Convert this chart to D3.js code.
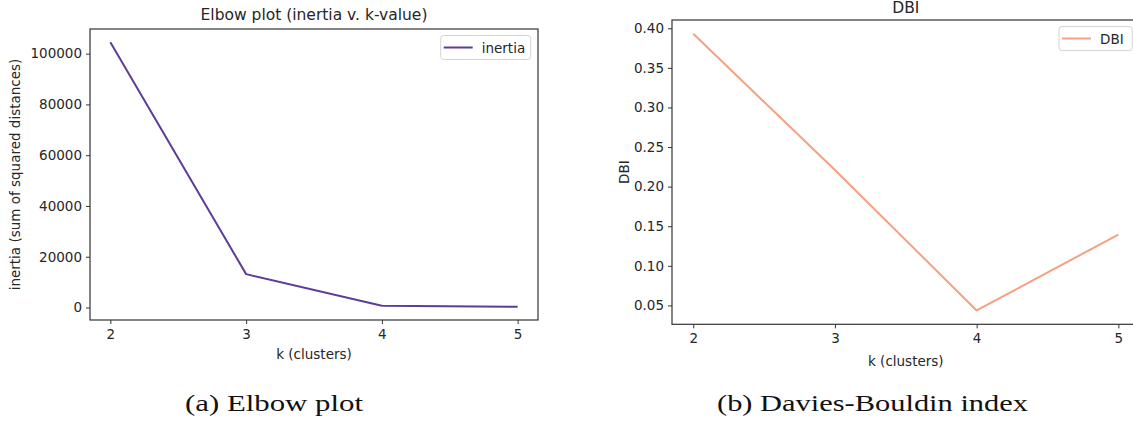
<!DOCTYPE html>
<html><head><meta charset="utf-8">
<script src="https://cdn.jsdelivr.net/npm/d3@7"></script>
<style>
html,body{margin:0;padding:0;background:#fff;}
svg{display:block;}
text{font-family:"DejaVu Sans",sans-serif;fill:#262626;}
.cap{font-family:"Liberation Serif","DejaVu Serif",serif;fill:#111;}
</style></head>
<body>
<svg id="c" width="1133" height="421"></svg>
<script>
const kValues = [2, 3, 4, 5];
const inertia = [104500, 13150, 680, 290];
const dbi = [0.393, 0.221, 0.0436, 0.1395];
const inertiaTicks = [0, 20000, 40000, 60000, 80000, 100000];
const dbiTicks = [0.05, 0.10, 0.15, 0.20, 0.25, 0.30, 0.35, 0.40];

const svg = d3.select("#c");

function panel(opt){
  const {x0,x1,y0,y1} = opt.box;
  const g = svg.append("g");
  const ext = d3.extent(opt.y);
  const m = (ext[1]-ext[0])*0.05;
  const xm = (d3.max(kValues)-d3.min(kValues))*0.05;
  const x = d3.scaleLinear().domain([d3.min(kValues)-xm, d3.max(kValues)+xm]).range([x0,x1]);
  const y = d3.scaleLinear().domain([ext[0]-m, ext[1]+m]).range([y1,y0]);

  const xa = g.append("g").attr("transform",`translate(0,${y1})`)
    .call(d3.axisBottom(x).tickValues(kValues).tickFormat(d3.format("d")).tickSize(4).tickPadding(5));
  const ya = g.append("g").attr("transform",`translate(${x0},0)`)
    .call(d3.axisLeft(y).tickValues(opt.ticks).tickFormat(opt.fmt).tickSize(4).tickPadding(4));
  [xa,ya].forEach(a=>{
    a.select(".domain").remove();
    a.selectAll("line").attr("stroke","#333").attr("stroke-width",1);
    a.selectAll("text").attr("font-size","13.5px").attr("fill","#262626").attr("font-family","DejaVu Sans");
  });

  g.append("path").datum(kValues.map((k,i)=>[k,opt.y[i]]))
    .attr("fill","none").attr("stroke",opt.color).attr("stroke-width",2)
    .attr("stroke-linejoin","round")
    .attr("d", d3.line().x(d=>x(d[0])).y(d=>y(d[1])));

  g.append("rect").attr("x",x0).attr("y",y0).attr("width",x1-x0).attr("height",y1-y0)
    .attr("fill","none").attr("stroke","#333").attr("stroke-width",1.2);

  g.append("text").attr("x",(x0+x1)/2).attr("y",opt.titleY).attr("text-anchor","middle")
    .attr("font-size","15.5px").text(opt.title);
  g.append("text").attr("x",(x0+x1)/2).attr("y",opt.xlabY).attr("text-anchor","middle")
    .attr("font-size","13.5px").text("k (clusters)");
  g.append("text").attr("transform",`translate(${opt.ylabX},${(y0+y1)/2}) rotate(-90)`)
    .attr("text-anchor","middle").attr("font-size","13.5px").text(opt.ylab);

  // legend
  const lw = opt.legW, lh = 24;
  const lx = x1 - 7.3 - lw, ly = y0 + 6.5;
  g.append("rect").attr("x",lx).attr("y",ly).attr("width",lw).attr("height",lh).attr("rx",3)
    .attr("fill","#fff").attr("fill-opacity",0.8).attr("stroke","#d4d4d4").attr("stroke-width",1);
  g.append("line").attr("x1",lx+3).attr("x2",lx+32).attr("y1",ly+lh/2).attr("y2",ly+lh/2)
    .attr("stroke",opt.color).attr("stroke-width",2);
  g.append("text").attr("x",lx+41).attr("y",ly+lh/2+5).attr("font-size","13.5px").text(opt.legend);

  svg.append("text").attr("class","cap").attr("x",opt.capX).attr("y",411).attr("text-anchor","middle")
    .attr("font-size","23px").attr("textLength",opt.capW).attr("lengthAdjust","spacingAndGlyphs")
    .text(opt.caption);
}

panel({box:{x0:90,x1:538,y0:29,y1:320}, y:inertia, ticks:inertiaTicks, fmt:d3.format("d"),
  color:"#5e3c99", title:"Elbow plot (inertia v. k-value)", titleY:20, xlabY:359,
  ylab:"inertia (sum of squared distances)", ylabX:20, legend:"inertia", legW:90,
  caption:"(a) Elbow plot", capX:274, capW:178});
panel({box:{x0:672,x1:1139.6,y0:20,y1:324.3}, y:dbi, ticks:dbiTicks, fmt:d3.format(".2f"),
  color:"#f7a081", title:"DBI", titleY:13, xlabY:366,
  ylab:"DBI", ylabX:629, legend:"DBI", legW:73.3,
  caption:"(b) Davies-Bouldin index", capX:872.5, capW:311});
</script>
</body></html>
